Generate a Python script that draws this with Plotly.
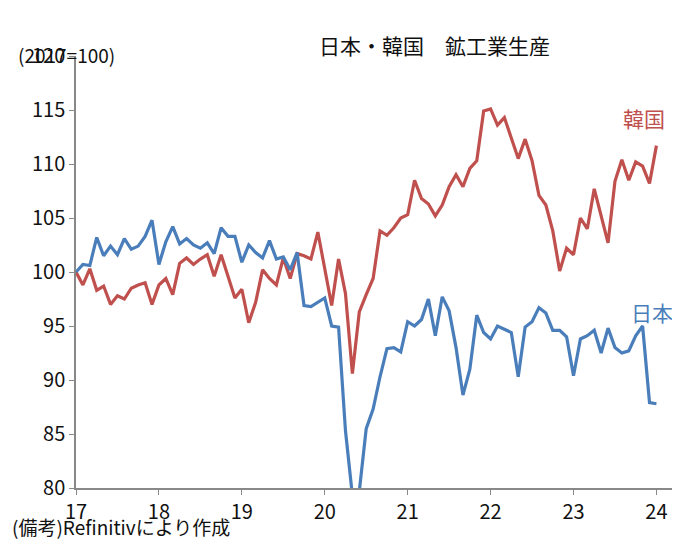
import plotly.graph_objects as go

japan = [100, 100.7, 100.6, 103.2, 101.5, 102.4, 101.6, 103.1, 102.1, 102.4, 103.3, 104.8,
         100.7, 102.8, 104.2, 102.6, 103.1, 102.5, 102.2, 102.7, 101.7, 104.1, 103.3, 103.3,
         100.9, 102.5, 101.8, 101.3, 102.9, 101.2, 101.4, 100.2, 101.8, 96.9, 96.8, 97.2,
         97.6, 95.0, 94.9, 85.3, 79.3, 79.7, 85.5, 87.3, 90.3, 92.9, 93.0, 92.6,
         95.4, 95.0, 95.6, 97.5, 94.1, 97.7, 96.4, 93.0, 88.6, 91.0, 96.0, 94.4,
         93.8, 95.0, 94.7, 94.4, 90.3, 94.9, 95.4, 96.7, 96.2, 94.6, 94.6, 94.0,
         90.4, 93.8, 94.1, 94.6, 92.5, 94.8, 93.0, 92.5, 92.7, 94.1, 95.0, 87.9,
         87.8]
korea = [100, 98.8, 100.3, 98.3, 98.7, 97.0, 97.8, 97.5, 98.5, 98.8, 99.0, 97.0,
         98.8, 99.4, 97.9, 100.8, 101.3, 100.7, 101.2, 101.6, 99.6, 101.6, 99.6, 97.6,
         98.4, 95.3, 97.2, 100.2, 99.4, 98.8, 101.3, 99.4, 101.7, 101.5, 101.2, 103.7,
         100.3, 96.9, 101.2, 98.0, 90.6, 96.3, 97.9, 99.4, 103.8, 103.4, 104.1, 105.0,
         105.3, 108.5, 106.8, 106.3, 105.2, 106.2, 107.9, 109.0, 107.9, 109.6, 110.3, 114.9,
         115.1, 113.6, 114.3, 112.5, 110.5, 112.3, 110.3, 107.1, 106.2, 103.8, 100.1,
         102.2, 101.6, 105.0, 104.0, 107.7, 105.3, 102.7, 108.4, 110.4, 108.5, 110.2, 109.8,
         108.2, 111.7]
x = [17 + i / 12 for i in range(len(japan))]
xk = [17 + i / 12 for i in range(len(korea))]
tick_vals = [17, 18, 19, 20, 21, 22, 23, 24]
tick_text = ["17", "18", "19", "20", "21", "22", "23", "24"]

RED = "#C0504D"
BLUE = "#4A7EBB"
font = "Noto Sans CJK JP"

fig = go.Figure()
fig.add_trace(go.Scatter(x=xk, y=korea, mode="lines", line=dict(color=RED, width=3.2)))
fig.add_trace(go.Scatter(x=x, y=japan, mode="lines", line=dict(color=BLUE, width=3.2)))

fig.update_layout(
    width=680, height=550, showlegend=False,
    paper_bgcolor="white", plot_bgcolor="white",
    margin=dict(l=68, r=15, t=48, b=70),
    font=dict(family=font, size=20, color="#111"),
    xaxis=dict(range=[17, 24.2], tickvals=tick_vals, ticktext=tick_text, automargin=False,
               showline=True, linecolor="#888", linewidth=1.5, ticks="outside",
               tickcolor="#888", ticklen=5, showgrid=False, zeroline=False),
    yaxis=dict(range=[80, 120], dtick=5, showline=True, linecolor="#888", linewidth=1.5,
               automargin=False, ticks="outside", tickcolor="#888", ticklen=5,
               showgrid=False, zeroline=False),
    annotations=[
        dict(text="日本・韓国　鉱工業生産", xref="paper", yref="paper", x=0.6, y=1.0, yshift=28,
             showarrow=False, font=dict(size=21)),
        dict(text="(2017=100)", xref="paper", yref="paper", x=-0.1, y=1.0, yshift=17,
             xanchor="left", showarrow=False, font=dict(size=19)),
        dict(text="韓国", x=23.85, y=114.3, showarrow=False, font=dict(size=21, color=RED)),
        dict(text="日本", x=23.95, y=96.3, showarrow=False, font=dict(size=21, color=BLUE)),
        dict(text="(備考)Refinitivにより作成", xref="paper", yref="paper", x=-0.11, y=0,
             yshift=-54, xanchor="left", showarrow=False, font=dict(size=19)),
    ],
)
fig.write_html("out.html")
